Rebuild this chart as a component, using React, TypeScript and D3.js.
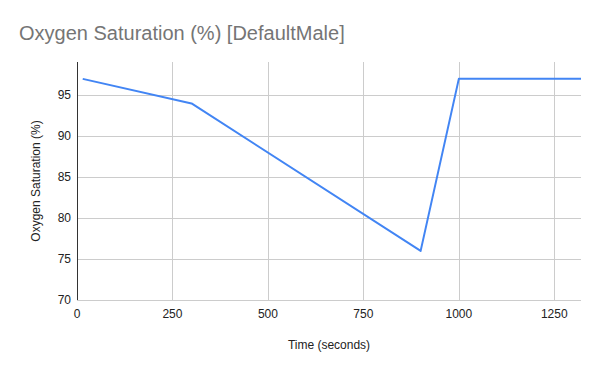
import { useEffect, useRef } from "react";
import * as d3 from "d3";

const timeSeconds = [15, 300, 900, 1000, 1320];
const oxygenSaturation = [97, 94, 76, 97, 97];
const xTicks = [0, 250, 500, 750, 1000, 1250];
const yTicks = [70, 75, 80, 85, 90, 95];

const TITLE = "Oxygen Saturation (%) [DefaultMale]";
const X_TITLE = "Time (seconds)";
const Y_TITLE = "Oxygen Saturation (%)";

export default function App() {
  const svgRef = useRef<SVGSVGElement>(null);

  useEffect(() => {
    if (!svgRef.current) return;
    const width = 600;
    const height = 371;
    const margin = { top: 62, right: 19, bottom: 71, left: 77 };
    const innerWidth = width - margin.left - margin.right;
    const innerHeight = height - margin.top - margin.bottom;
    const font = "Arial, 'Liberation Sans', sans-serif";

    const svg = d3.select(svgRef.current);
    svg.selectAll("*").remove();
    svg.attr("width", width).attr("height", height);

    svg.append("rect").attr("width", width).attr("height", height).attr("fill", "#fff");

    const x = d3.scaleLinear().domain([0, 1320]).range([0, innerWidth]);
    const y = d3.scaleLinear().domain([70, 99.06]).range([innerHeight, 0]);

    const g = svg.append("g").attr("transform", `translate(${margin.left},${margin.top})`);

    // gridlines
    g.selectAll(".vgrid")
      .data(xTicks.filter((t) => t > 0))
      .enter()
      .append("line")
      .attr("x1", (d) => Math.round(x(d)) + 0.5)
      .attr("x2", (d) => Math.round(x(d)) + 0.5)
      .attr("y1", 0)
      .attr("y2", innerHeight)
      .attr("stroke", "#cccccc");

    g.selectAll(".hgrid")
      .data(yTicks)
      .enter()
      .append("line")
      .attr("x1", 0)
      .attr("x2", innerWidth)
      .attr("y1", (d) => Math.round(y(d)) + 0.5)
      .attr("y2", (d) => Math.round(y(d)) + 0.5)
      .attr("stroke", "#cccccc");

    // left axis line
    g.append("line")
      .attr("x1", 0.5)
      .attr("x2", 0.5)
      .attr("y1", 0)
      .attr("y2", innerHeight)
      .attr("stroke", "#333333");

    // tick labels
    g.selectAll(".ylab")
      .data(yTicks)
      .enter()
      .append("text")
      .attr("x", -6)
      .attr("y", (d) => y(d) + 4)
      .attr("text-anchor", "end")
      .attr("font-family", font)
      .attr("font-size", "12px")
      .attr("fill", "#222222")
      .text((d) => d);

    g.selectAll(".xlab")
      .data(xTicks)
      .enter()
      .append("text")
      .attr("x", (d) => x(d))
      .attr("y", innerHeight + 18)
      .attr("text-anchor", "middle")
      .attr("font-family", font)
      .attr("font-size", "12px")
      .attr("fill", "#222222")
      .text((d) => d);

    const points = timeSeconds.map((t, i) => [t, oxygenSaturation[i]] as [number, number]);
    const line = d3
      .line<[number, number]>()
      .x((d) => x(d[0]))
      .y((d) => y(d[1]));

    g.append("path")
      .datum(points)
      .attr("d", line)
      .attr("fill", "none")
      .attr("stroke", "#4285f4")
      .attr("stroke-width", 2)
      .attr("stroke-linejoin", "round");

    // titles
    svg.append("text")
      .attr("x", 19)
      .attr("y", 40)
      .attr("font-family", font)
      .attr("font-size", "20px")
      .attr("fill", "#757575")
      .text(TITLE);

    svg.append("text")
      .attr("x", margin.left + innerWidth / 2)
      .attr("y", 349)
      .attr("text-anchor", "middle")
      .attr("font-family", font)
      .attr("font-size", "12px")
      .attr("fill", "#222222")
      .text(X_TITLE);

    svg.append("text")
      .attr("transform", `translate(40, ${margin.top + innerHeight / 2}) rotate(-90)`)
      .attr("text-anchor", "middle")
      .attr("font-family", font)
      .attr("font-size", "12px")
      .attr("fill", "#222222")
      .text(Y_TITLE);
  }, []);

  return (
    <div style={{ position: "absolute", left: 0, top: 0 }}>
      <svg ref={svgRef} style={{ display: "block" }} />
    </div>
  );
}
